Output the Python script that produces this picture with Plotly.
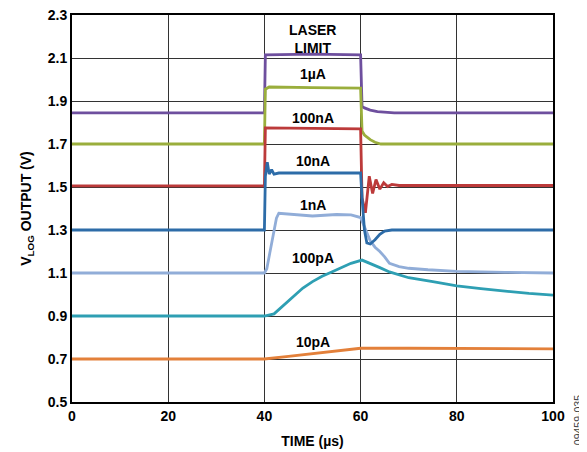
import plotly.graph_objects as go

# Curvas medidas (tiempo en us, tension en V)
t_1ua = [0, 40, 40.2, 50, 60, 60.3, 60.8, 62, 63.5, 65, 67, 80, 100]
v_1ua = [1.845, 1.845, 2.115, 2.118, 2.115, 1.875, 1.868, 1.858, 1.851, 1.847, 1.845, 1.845, 1.845]

t_100na = [0, 40, 40.2, 41, 50, 60, 60.3, 60.8, 62, 63, 64.2, 66, 100]
v_100na = [1.70, 1.70, 1.955, 1.965, 1.962, 1.96, 1.76, 1.742, 1.72, 1.708, 1.70, 1.70, 1.70]

t_10na = [0, 40, 40.2, 50, 60, 60.3, 61, 61.8, 62.5, 63.2, 64, 64.8, 65.6, 66.5, 68, 100]
v_10na = [1.505, 1.505, 1.775, 1.772, 1.77, 1.45, 1.38, 1.55, 1.47, 1.535, 1.49, 1.52, 1.502, 1.512, 1.507, 1.507]

t_1na = [0, 40, 40.2, 40.6, 41, 41.5, 42, 43, 50, 60, 60.3, 60.8, 61.3, 62, 63, 64, 65, 66.5, 100]
v_1na = [1.30, 1.30, 1.55, 1.615, 1.56, 1.58, 1.56, 1.565, 1.565, 1.565, 1.45, 1.30, 1.24, 1.235, 1.255, 1.28, 1.295, 1.30, 1.30]

t_100pa = [0, 40, 40.5, 41, 41.5, 42, 42.5, 43, 45, 50, 55, 58, 60, 61, 62, 63, 64, 65, 66, 68, 70, 74, 80, 90, 100]
v_100pa = [1.10, 1.10, 1.12, 1.18, 1.25, 1.31, 1.355, 1.378, 1.375, 1.365, 1.372, 1.37, 1.358, 1.30, 1.25, 1.22, 1.20, 1.175, 1.145, 1.13, 1.122, 1.115, 1.108, 1.103, 1.10]

t_10pa = [0, 40, 42, 44, 46, 48, 50, 52, 54, 56, 58, 60.3, 62, 64, 66, 68, 70, 75, 80, 85, 90, 95, 100]
v_10pa = [0.90, 0.90, 0.91, 0.95, 0.99, 1.03, 1.06, 1.085, 1.105, 1.125, 1.145, 1.16, 1.145, 1.125, 1.105, 1.09, 1.078, 1.06, 1.04, 1.027, 1.015, 1.005, 0.997]

t_1pa = [0, 40, 45, 50, 55, 60, 70, 80, 90, 100]
v_1pa = [0.70, 0.70, 0.712, 0.725, 0.738, 0.75, 0.75, 0.75, 0.748, 0.747]

# Etiquetas de cada curva
etiquetas = ["LASER<br>LIMIT", "1µA", "100nA", "10nA", "1nA", "100pA", "10pA"]
etiqueta_y = [2.19, 2.025, 1.823, 1.622, 1.416, 1.169, 0.78]

curvas = [
    (t_1ua, v_1ua, "#6E4F9E"),
    (t_100na, v_100na, "#9AAE3C"),
    (t_10na, v_10na, "#BC3A3A"),
    (t_10pa, v_10pa, "#2E9FB3"),
    (t_1pa, v_1pa, "#E3803A"),
    (t_100pa, v_100pa, "#91ADD8"),
    (t_1na, v_1na, "#2D6CA8"),
]

fig = go.Figure()
for t, v, color in curvas:
    fig.add_trace(go.Scatter(x=t, y=v, mode="lines", line=dict(color=color, width=2.8),
                             showlegend=False))

for texto, y in zip(etiquetas, etiqueta_y):
    fig.add_annotation(x=50, y=y, text=texto, showarrow=False,
                       font=dict(family="Arial", size=14, color="black", weight="bold"))

fig.add_annotation(x=1.052, y=-0.047, xref="paper", yref="paper", text="09459-035",
                   textangle=-90, showarrow=False, xanchor="center", yanchor="middle",
                   font=dict(family="Arial", size=10.5, color="#444"))

fuente_ejes = dict(family="Arial", size=14, color="black", weight="bold")

fig.update_xaxes(range=[0, 100], dtick=20, tick0=0, showgrid=True, gridcolor="#333",
                 gridwidth=1, showline=True, linecolor="black", linewidth=2, mirror=True,
                 zeroline=False, ticks="", tickfont=fuente_ejes, automargin=False,
                 ticklabeloverflow="allow",
                 title=dict(text="TIME (µs)", font=fuente_ejes, standoff=13))
fig.update_yaxes(range=[0.5, 2.3], dtick=0.2, tick0=0.5, tickformat=".1f", showgrid=True,
                 gridcolor="#333", gridwidth=1, showline=True, linecolor="black",
                 linewidth=2, mirror=True, zeroline=False, ticks="", tickfont=fuente_ejes,
                 automargin=False, ticklabeloverflow="allow",
                 title=dict(text="V<sub>LOG</sub> OUTPUT (V)", font=fuente_ejes, standoff=13))

# la pagina tiene 8px de margen en el body, por eso la figura es algo mas pequena
fig.update_layout(width=579, height=444, plot_bgcolor="white", paper_bgcolor="white",
                  margin=dict(l=64, r=34, t=7, b=50))

fig.write_html("out.html")
